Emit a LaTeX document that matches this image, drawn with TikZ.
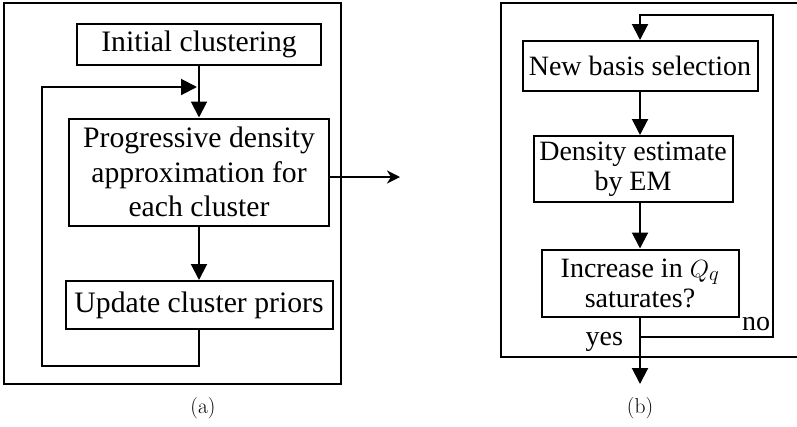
\documentclass[tikz,border=0pt]{standalone}
\usepackage{fontspec}
\usetikzlibrary{arrows.meta, positioning}
\newfontfamily\boxfont{Liberation Serif}

\begin{document}
\begin{tikzpicture}[
x=1pt, y=-1pt,
box/.style={
draw,
line width=2pt,
inner sep=0pt,
align=center,
font=\boxfont\fontsize{29.7}{34.5}\selectfont
},
rbox/.style={
box,
font=\boxfont\fontsize{28}{30}\selectfont
},
frame/.style={draw, line width=2pt},
word/.style={font=\boxfont\fontsize{28}{30}\selectfont, inner sep=0pt},
caption/.style={font=\fontsize{21.5}{24}\selectfont},
line width=2pt,
>={Triangle[length=16pt,width=16pt]}
]

\useasboundingbox (0,0) rectangle (797,426);

% panel (a)
\draw[frame] (4,3) rectangle (341,384);

\node[box, minimum width=244pt, minimum height=41pt] (init) at (199,44)
{Initial clustering};

\node[box, minimum width=260pt, minimum height=107pt] (prog) at (199,172)
{Progressive density\\approximation for\\each cluster};

\node[box, minimum width=267pt, minimum height=48pt] (upd) at (199,305)
{Update cluster priors};

\coordinate (loop) at (42,366);
\coordinate (back) at (197,87);
\coordinate (outtip) at (400,177);

\draw[->] (init) -- (prog);

\draw[->] (prog) -- (upd);

\draw[->] (upd.south) |- (loop) |- (back);

\draw[-{Stealth[length=13pt,width=13pt,inset=4pt]}] (prog.east |- outtip) -- (outtip);

\node[caption] (capa) at (203,408) {(a)};

% panel (b)
\draw[frame] (501,3) rectangle (800,357);

\node[rbox, minimum width=235pt, minimum height=50pt] (basis) at (640,66)
{New basis selection};

\node[rbox, minimum width=199pt, minimum height=66pt] (dens) at (633,169)
{Density estimate\\by EM};

\node[rbox, minimum width=197pt, minimum height=67pt] (incr) at (640,283)
{Increase in $Q_q$\\saturates?};

\coordinate (split) at (640,337);
\coordinate (topr) at (773,15);
\coordinate (yestip) at (640,384);

\draw[->] (basis.south) -- (basis.south |- dens.north);

\draw[->] (basis.south |- dens.south) -- (incr.north);

\draw (incr.south) -- (split);

\draw[->] (split) -- (yestip);

\draw[->] (split) -| (topr) -| (basis.north);

\node[word, anchor=base east] (no) at (771,330) {no};

\node[word, anchor=base east] (yes) at (624,345) {yes};

\node[caption] (capb) at (640,408) {(b)};

\end{tikzpicture}
\end{document}
